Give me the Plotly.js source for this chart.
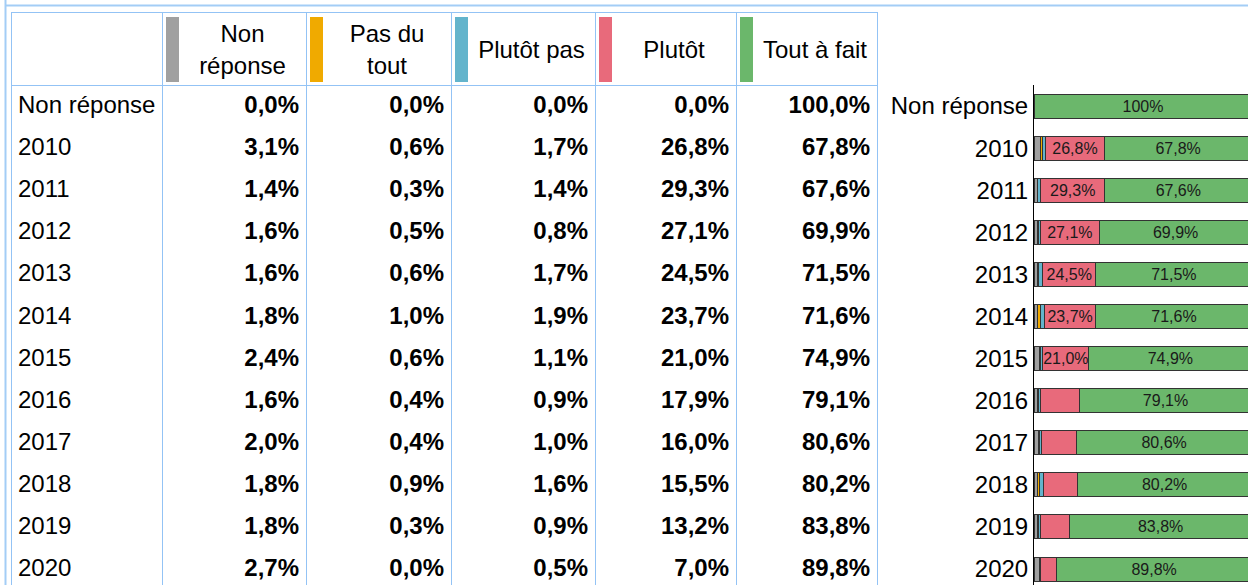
<!DOCTYPE html>
<html>
<head>
<meta charset="utf-8">
<script src="https://cdn.plot.ly/plotly-3.0.1.min.js"></script>
<style>
html,body{margin:0;padding:0;overflow:hidden;background:#fff;}
#chart{width:1248px;height:585px;}
</style>
</head>
<body>
<div id="chart"></div>
<script>
// ---- data ----
const categories = ['Non réponse','2010','2011','2012','2013','2014','2015','2016','2017','2018','2019','2020'];
const seriesNames = ['Non réponse','Pas du tout','Plutôt pas','Plutôt','Tout à fait'];
const headerLabels = ['Non<br>réponse','Pas du<br>tout','Plutôt pas','Plutôt','Tout à fait'];
const nonReponse = [0.0,3.1,1.4,1.6,1.6,1.8,2.4,1.6,2.0,1.8,1.8,2.7];
const pasDuTout  = [0.0,0.6,0.3,0.5,0.6,1.0,0.6,0.4,0.4,0.9,0.3,0.0];
const plutotPas  = [0.0,1.7,1.4,0.8,1.7,1.9,1.1,0.9,1.0,1.6,0.9,0.5];
const plutot     = [0.0,26.8,29.3,27.1,24.5,23.7,21.0,17.9,16.0,15.5,13.2,7.0];
const toutAFait  = [100.0,67.8,67.6,69.9,71.5,71.6,74.9,79.1,80.6,80.2,83.8,89.8];
const seriesColors = ['#a0a0a0','#f0aa00','#63b4cc','#e86a7b','#6bb76b'];

const seriesValues = [nonReponse, pasDuTout, plutotPas, plutot, toutAFait];

// ---- layout constants ----
const W = 1248, H = 585;
const FONT = 'Arial, "Liberation Sans", sans-serif';
const GRID = '#93c3f5';
const colEdges = [12,162,306,451,595,736,877];
const tableTop = 13, headerBottom = 85;
const rowH = 42.09;
const axisX = 1034, pxPerPct = 2.18;
const xMax = (W - axisX) / pxPerPct;
const yBottom = -0.5 + (H - headerBottom) / rowH;
const pad = 7;

const fmtTable = v => v.toFixed(1).replace('.', ',') + '%';
const fmtBar = v => v >= 20 ? (v >= 100 ? '100%' : v.toFixed(1).replace('.', ',') + '%') : '';

const rowCenters = categories.map((c, i) => headerBottom + 1 + rowH * (i + 0.5));

const traces = [];

// bars
seriesValues.forEach((vals, j) => {
  traces.push({
    type: 'bar', orientation: 'h', name: seriesNames[j],
    x: vals, y: categories, xaxis: 'x', yaxis: 'y',
    marker: {color: seriesColors[j], line: {color: '#333', width: 1}},
    text: vals.map(fmtBar), textposition: 'inside', insidetextanchor: 'middle',
    constraintext: 'none',
    textfont: {family: FONT, size: 16, color: '#1a1a1a'},
    hoverinfo: 'skip'
  });
});

// table: row labels
traces.push({
  type: 'scatter', mode: 'text', xaxis: 'x2', yaxis: 'y2',
  x: categories.map(() => colEdges[0] + 6), y: rowCenters,
  text: categories, textposition: 'middle right',
  textfont: {family: FONT, size: 24, color: '#000'}, hoverinfo: 'skip', cliponaxis: false
});
// table: values
seriesValues.forEach((vals, j) => {
  traces.push({
    type: 'scatter', mode: 'text', xaxis: 'x2', yaxis: 'y2',
    x: vals.map(() => colEdges[j + 2] - pad), y: rowCenters,
    text: vals.map(fmtTable), textposition: 'middle left',
    textfont: {family: FONT, size: 24, color: '#000', weight: 700}, hoverinfo: 'skip', cliponaxis: false
  });
});
// table: header
traces.push({
  type: 'scatter', mode: 'text', xaxis: 'x2', yaxis: 'y2',
  x: headerLabels.map((h, j) => (colEdges[j + 1] + 17 + colEdges[j + 2]) / 2),
  y: headerLabels.map(() => (tableTop + headerBottom) / 2 + 3),
  text: headerLabels, textposition: 'middle center',
  textfont: {family: FONT, size: 24, color: '#000'}, hoverinfo: 'skip', cliponaxis: false
});

const shapes = seriesColors.map((c, j) => ({
  type: 'rect', xref: 'x2', yref: 'y2',
  x0: colEdges[j + 1] + 4, x1: colEdges[j + 1] + 17, y0: tableTop + 4, y1: headerBottom - 3,
  fillcolor: c, line: {width: 0}
}));
shapes.push({type: 'line', xref: 'paper', yref: 'paper', x0: 5.5 / W, x1: 5.5 / W, y0: 0, y1: 1, line: {color: '#a3cdf6', width: 2}});
shapes.push({type: 'line', xref: 'paper', yref: 'paper', x0: 5 / W, x1: 1, y0: 1 - 5.5 / H, y1: 1 - 5.5 / H, line: {color: '#a3cdf6', width: 2}});

const layout = {
  width: W, height: H,
  margin: {l: 0, r: 0, t: 0, b: 0, pad: 0},
  paper_bgcolor: '#fff', plot_bgcolor: 'rgba(0,0,0,0)',
  showlegend: false, barmode: 'stack', bargap: 0.43,
  font: {family: FONT, size: 24, color: '#000'},
  xaxis: {domain: [axisX / W, 1], range: [0, xMax], anchor: 'y', showgrid: false, zeroline: false,
          showticklabels: false, showline: false, ticks: '', fixedrange: true},
  yaxis: {domain: [0, (H - headerBottom) / H], range: [yBottom, -0.5], type: 'category', anchor: 'x',
          showline: true, linecolor: '#000', linewidth: 1, ticks: '', showgrid: false, zeroline: false,
          tickfont: {family: FONT, size: 24, color: '#000'}, fixedrange: true},
  xaxis2: {domain: [colEdges[0] / W, colEdges[6] / W], range: [colEdges[0], colEdges[6]], anchor: 'y2',
           tickmode: 'array', tickvals: colEdges.slice(1, -1), showgrid: true, gridcolor: GRID, gridwidth: 1,
           showticklabels: false, ticks: '', zeroline: false, showline: true, linecolor: GRID, linewidth: 1,
           side: 'top', mirror: false, fixedrange: true},
  yaxis2: {domain: [0, (H - tableTop) / H], range: [H, tableTop], anchor: 'x2',
           tickmode: 'array', tickvals: [headerBottom], showgrid: true, gridcolor: GRID, gridwidth: 1,
           showticklabels: false, ticks: '', zeroline: false, showline: true, mirror: true,
           linecolor: GRID, linewidth: 1, fixedrange: true},
  shapes: shapes
};

Plotly.newPlot('chart', traces, layout, {displayModeBar: false, staticPlot: true});
</script>
</body>
</html>
